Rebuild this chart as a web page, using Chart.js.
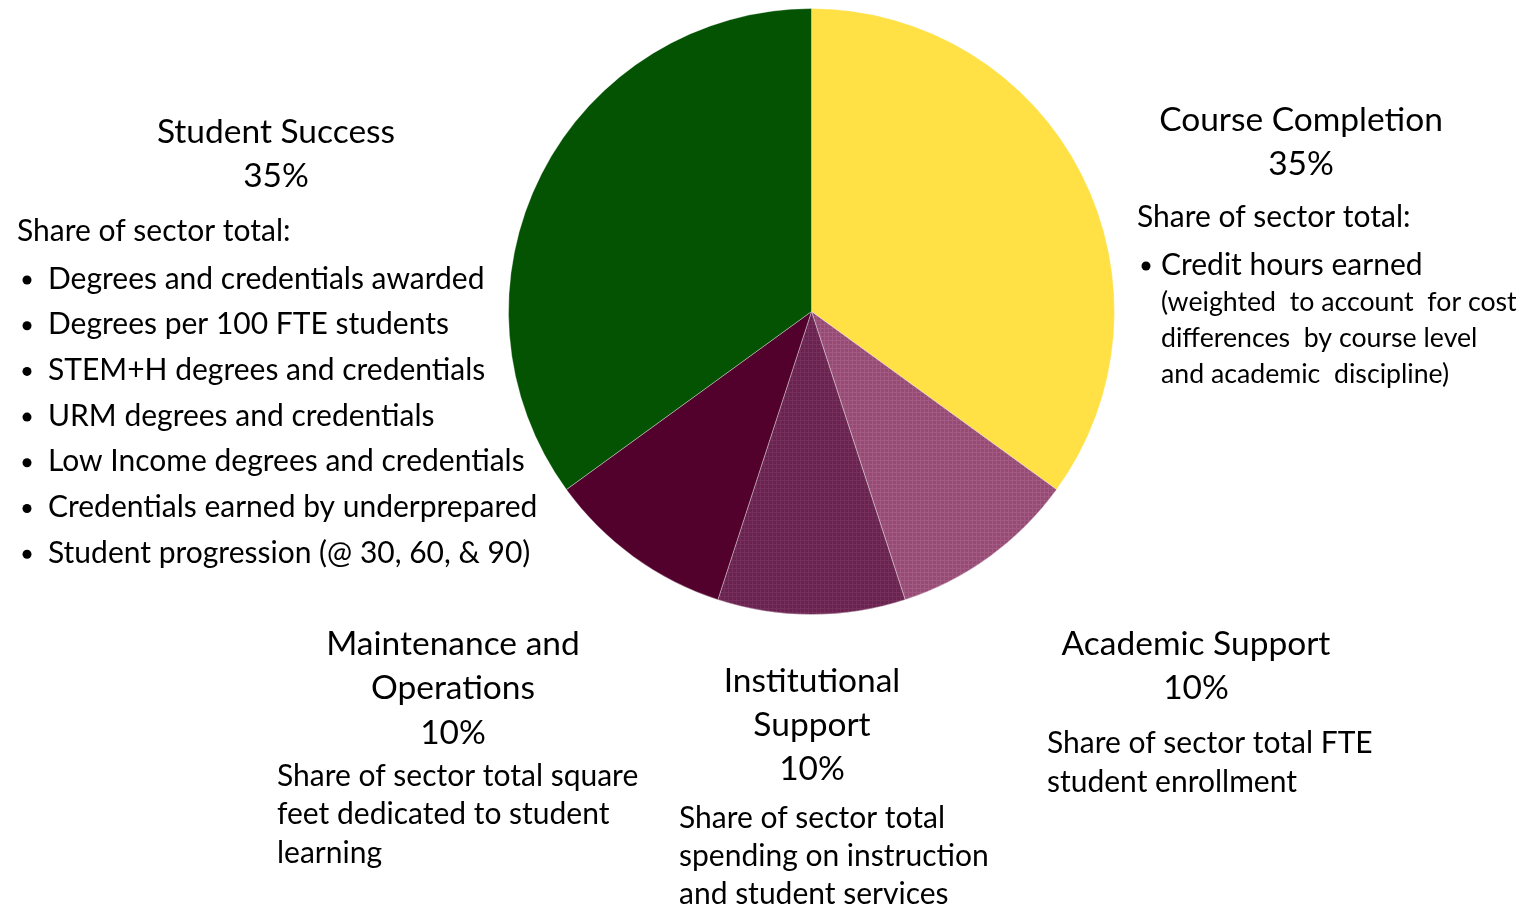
<!DOCTYPE html>
<html>
<head>
<meta charset="utf-8">
<title>Funding formula weights</title>
<script src="https://cdn.jsdelivr.net/npm/chart.js@4"></script>
<style>
  html, body { margin: 0; padding: 0; background: #fff; }
  #wrap { width: 1529px; height: 907px; }
</style>
</head>
<body>
<div id="wrap"><canvas id="pieChart" width="1529" height="907"></canvas></div>
<script>
// slices, clockwise from 12 o'clock
const CATEGORIES = ['Course Completion', 'Academic Support', 'Institutional Support', 'Maintenance and Operations', 'Student Success'];
const SHARES = [35, 10, 10, 10, 35];
const TITLE_LINES = [
  ['Course Completion'],
  ['Academic Support'],
  ['Institutional', 'Support'],
  ['Maintenance and', 'Operations'],
  ['Student Success'],
];
const INTROS = ['Share of sector total:', null, null, null, 'Share of sector total:'];
const BULLETS = [
  ['Credit hours earned'],
  [],
  [],
  [],
  [
    'Degrees and credentials awarded',
    'Degrees per 100 FTE students',
    'STEM+H degrees and credentials',
    'URM degrees and credentials',
    'Low Income degrees and credentials',
    'Credentials earned by underprepared',
    'Student progression (@ 30, 60, & 90)',
  ],
];
const NOTES = [
  ['(weighted  to account  for cost', 'differences  by course level', 'and academic  discipline)'],
  ['Share of sector total FTE', 'student enrollment'],
  ['Share of sector total', 'spending on instruction', 'and student services'],
  ['Share of sector total square', 'feet dedicated to student', 'learning'],
  [],
];

const COLORS = ['#FFE045', '#964B74', '#6A2350', '#52002C', '#035303'];
const FONT = 'Lato, "Open Sans", sans-serif';

// where each text block sits on the page
const LAYOUT = [
  { cx: 1301, titleY: [120], pctY: 164, introX: 1137, introY: 217, bulletX: 1146, textX: 1161, bulletY: 265, bulletStep: 46, noteX: 1161, noteY: 302, noteStep: 36, noteSize: 26.7 },
  { cx: 1196, titleY: [644], pctY: 688, noteX: 1047, noteY: 743, noteStep: 39 },
  { cx: 812, titleY: [681, 725], pctY: 769, noteX: 679, noteY: 818, noteStep: 38 },
  { cx: 453, titleY: [644, 688], pctY: 733, noteX: 277, noteY: 776, noteStep: 38.5 },
  { cx: 276, titleY: [132], pctY: 176, introX: 17, introY: 231, bulletX: 27, textX: 48, bulletY: 279, bulletStep: 45.7 },
];

function gridPattern(base, light) {
  const c = document.createElement('canvas');
  c.width = 4; c.height = 4;
  const g = c.getContext('2d');
  g.fillStyle = base;
  g.fillRect(0, 0, 4, 4);
  g.fillStyle = light;
  g.fillRect(0, 0, 4, 1);
  g.fillRect(0, 0, 1, 4);
  return g.createPattern(c, 'repeat');
}

const textBlocks = {
  id: 'textBlocks',
  afterDraw(chart) {
    const ctx = chart.ctx;
    ctx.save();
    ctx.fillStyle = '#000';
    ctx.textBaseline = 'middle';
    CATEGORIES.forEach((cat, i) => {
      const L = LAYOUT[i];
      ctx.font = `33.5px ${FONT}`;
      ctx.textAlign = 'center';
      TITLE_LINES[i].forEach((t, k) => ctx.fillText(t, L.cx, L.titleY[k]));
      ctx.fillText(`${SHARES[i]}%`, L.cx, L.pctY);

      ctx.textAlign = 'left';
      ctx.font = `30px ${FONT}`;
      if (INTROS[i]) ctx.fillText(INTROS[i], L.introX, L.introY);
      BULLETS[i].forEach((b, k) => {
        const y = L.bulletY + k * L.bulletStep;
        ctx.beginPath();
        ctx.arc(L.bulletX, y + 1, 4.5, 0, Math.PI * 2);
        ctx.fill();
        ctx.fillText(b, L.textX, y);
      });
      ctx.font = `${L.noteSize || 30}px ${FONT}`;
      NOTES[i].forEach((n, k) => ctx.fillText(n, L.noteX, L.noteY + k * L.noteStep));
    });
    ctx.restore();
  },
};

function draw() {
  const fills = COLORS.slice();
  fills[1] = gridPattern(COLORS[1], '#A25A82');
  fills[2] = gridPattern(COLORS[2], '#74305A');

  new Chart(document.getElementById('pieChart'), {
    type: 'pie',
    data: {
      labels: CATEGORIES,
      datasets: [{
        data: SHARES,
        backgroundColor: fills,
        borderColor: 'rgba(255,255,255,0.35)',
        borderWidth: 1,
      }],
    },
    options: {
      responsive: false,
      animation: false,
      layout: { padding: { left: 507, right: 413, top: 8, bottom: 292 } },
      plugins: {
        legend: { display: false },
        tooltip: { enabled: false },
      },
    },
    plugins: [textBlocks],
  });
}

document.fonts.load(`30px ${FONT}`).then(draw, draw);
</script>
</body>
</html>
